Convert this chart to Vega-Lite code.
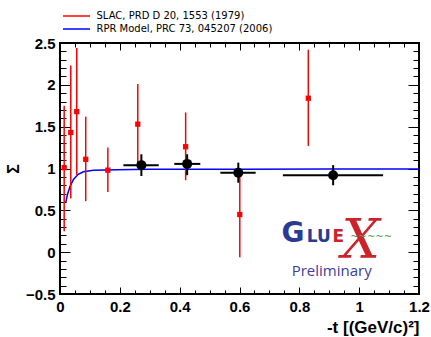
{
  "$schema": "https://vega.github.io/schema/vega-lite/v6.json",
  "width": 359,
  "height": 251,
  "autosize": "none",
  "padding": {"left": 60, "top": 43, "right": 12, "bottom": 43},
  "background": "white",
  "config": {
    "view": {"stroke": "black", "strokeWidth": 2},
    "axis": {"grid": false, "domain": false, "tickColor": "black", "labelColor": "black", "titleColor": "black"}
  },
  "datasets": {
    "slac": [
      {"t": 0.014, "sigma": 1.01, "lo": 0.25, "hi": 1.75, "series": "SLAC, PRD D 20, 1553 (1979)"},
      {"t": 0.036, "sigma": 1.43, "lo": 0.64, "hi": 2.23, "series": "SLAC, PRD D 20, 1553 (1979)"},
      {"t": 0.056, "sigma": 1.68, "lo": 0.92, "hi": 2.44, "series": "SLAC, PRD D 20, 1553 (1979)"},
      {"t": 0.086, "sigma": 1.11, "lo": 0.61, "hi": 1.62, "series": "SLAC, PRD D 20, 1553 (1979)"},
      {"t": 0.160, "sigma": 0.98, "lo": 0.72, "hi": 1.25, "series": "SLAC, PRD D 20, 1553 (1979)"},
      {"t": 0.260, "sigma": 1.53, "lo": 1.05, "hi": 2.01, "series": "SLAC, PRD D 20, 1553 (1979)"},
      {"t": 0.420, "sigma": 1.26, "lo": 0.86, "hi": 1.67, "series": "SLAC, PRD D 20, 1553 (1979)"},
      {"t": 0.601, "sigma": 0.45, "lo": -0.06, "hi": 0.96, "series": "SLAC, PRD D 20, 1553 (1979)"},
      {"t": 0.830, "sigma": 1.84, "lo": 1.27, "hi": 2.42, "series": "SLAC, PRD D 20, 1553 (1979)"}
    ],
    "rpr": [
      {"t": 0.019, "sigma": 0.59, "series": "RPR Model, PRC 73, 045207 (2006)"},
      {"t": 0.025, "sigma": 0.69, "series": "RPR Model, PRC 73, 045207 (2006)"},
      {"t": 0.034, "sigma": 0.79, "series": "RPR Model, PRC 73, 045207 (2006)"},
      {"t": 0.045, "sigma": 0.87, "series": "RPR Model, PRC 73, 045207 (2006)"},
      {"t": 0.061, "sigma": 0.93, "series": "RPR Model, PRC 73, 045207 (2006)"},
      {"t": 0.078, "sigma": 0.96, "series": "RPR Model, PRC 73, 045207 (2006)"},
      {"t": 0.112, "sigma": 0.978, "series": "RPR Model, PRC 73, 045207 (2006)"},
      {"t": 0.19, "sigma": 0.986, "series": "RPR Model, PRC 73, 045207 (2006)"},
      {"t": 0.3, "sigma": 0.99, "series": "RPR Model, PRC 73, 045207 (2006)"},
      {"t": 0.6, "sigma": 0.99, "series": "RPR Model, PRC 73, 045207 (2006)"},
      {"t": 0.9, "sigma": 0.994, "series": "RPR Model, PRC 73, 045207 (2006)"},
      {"t": 1.2, "sigma": 0.995, "series": "RPR Model, PRC 73, 045207 (2006)"}
    ],
    "gluex": [
      {"t": 0.272, "sigma": 1.04, "lo": 0.91, "hi": 1.17, "tlo": 0.212, "thi": 0.330},
      {"t": 0.425, "sigma": 1.055, "lo": 0.92, "hi": 1.17, "tlo": 0.382, "thi": 0.469},
      {"t": 0.596, "sigma": 0.95, "lo": 0.83, "hi": 1.07, "tlo": 0.536, "thi": 0.654},
      {"t": 0.913, "sigma": 0.92, "lo": 0.80, "hi": 1.04, "tlo": 0.745, "thi": 1.080}
    ]
  },
  "resolve": {"axis": {"x": "independent", "y": "independent"}},
  "layer": [
    {
      "data": {"name": "rpr"},
      "mark": {"type": "line", "strokeWidth": 1.5, "clip": true},
      "encoding": {
        "x": {
          "field": "t", "type": "quantitative",
          "scale": {"domain": [0, 1.2], "nice": false, "zero": false},
          "axis": {
            "orient": "bottom",
            "values": [0,0.05,0.1,0.15,0.2,0.25,0.3,0.35,0.4,0.45,0.5,0.55,0.6,0.65,0.7,0.75,0.8,0.85,0.9,0.95,1,1.05,1.1,1.15,1.2],
            "tickSize": {"condition": {"test": "abs(datum.value*5-round(datum.value*5))<1e-6", "value": -7}, "value": -4},
            "tickWidth": 1,
            "labelExpr": "abs(datum.value*5-round(datum.value*5))<1e-6 ? format(datum.value,'~g') : ''",
            "labelFont": "Liberation Sans", "labelFontWeight": "bold", "labelFontSize": 15,
            "labelPadding": 12, "labelFlush": false, "labelOverlap": false,
            "title": "-t [(GeV/c)²]", "titleAnchor": "end", "titleFont": "Liberation Sans",
            "titleFontWeight": "bold", "titleFontSize": 17, "titlePadding": 2
          }
        },
        "y": {
          "field": "sigma", "type": "quantitative",
          "scale": {"domain": [-0.5, 2.5], "nice": false, "zero": false},
          "axis": {
            "orient": "left",
            "values": [-0.5,-0.4,-0.3,-0.2,-0.1,0,0.1,0.2,0.3,0.4,0.5,0.6,0.7,0.8,0.9,1,1.1,1.2,1.3,1.4,1.5,1.6,1.7,1.8,1.9,2,2.1,2.2,2.3,2.4,2.5],
            "tickSize": {"condition": {"test": "abs(datum.value*2-round(datum.value*2))<1e-6", "value": -10}, "value": -6},
            "tickWidth": 1,
            "labelExpr": "abs(datum.value*2-round(datum.value*2))<1e-6 ? format(datum.value,'~g') : ''",
            "labelFont": "Liberation Sans", "labelFontWeight": "bold", "labelFontSize": 15,
            "labelPadding": 15, "labelFlush": false, "labelOverlap": false,
            "title": "Σ", "titleFont": "Liberation Sans", "titleFontWeight": "bold", "titleFontSize": 16, "titlePadding": 4
          }
        },
        "color": {
          "field": "series", "type": "nominal",
          "scale": {"domain": ["SLAC, PRD D 20, 1553 (1979)", "RPR Model, PRC 73, 045207 (2006)"], "range": ["#ff0000", "#0000ff"]},
          "legend": {
            "orient": "none", "legendX": 9.5, "legendY": -34, "title": null,
            "symbolType": "M-2.25,0L2.25,0", "symbolSize": 144, "symbolStrokeWidth": 1.5,
            "labelFont": "DejaVu Sans", "labelFontSize": 10, "labelColor": "black", "labelLimit": 400,
            "rowPadding": 1, "labelOffset": 13
          }
        }
      }
    },
    {
      "data": {"name": "slac"},
      "mark": {"type": "rule", "strokeWidth": 1.5},
      "encoding": {
        "x": {
          "field": "t", "type": "quantitative",
          "axis": {
            "orient": "top",
            "values": [0,0.05,0.1,0.15,0.2,0.25,0.3,0.35,0.4,0.45,0.5,0.55,0.6,0.65,0.7,0.75,0.8,0.85,0.9,0.95,1,1.05,1.1,1.15,1.2],
            "tickSize": {"condition": {"test": "abs(datum.value*5-round(datum.value*5))<1e-6", "value": -7}, "value": -4},
            "tickWidth": 1, "labels": false, "title": null
          }
        },
        "y": {
          "field": "lo", "type": "quantitative",
          "axis": {
            "orient": "right",
            "values": [-0.5,-0.4,-0.3,-0.2,-0.1,0,0.1,0.2,0.3,0.4,0.5,0.6,0.7,0.8,0.9,1,1.1,1.2,1.3,1.4,1.5,1.6,1.7,1.8,1.9,2,2.1,2.2,2.3,2.4,2.5],
            "tickSize": {"condition": {"test": "abs(datum.value*2-round(datum.value*2))<1e-6", "value": -11}, "value": -6},
            "tickWidth": 1, "labels": false, "title": null
          }
        },
        "y2": {"field": "hi"},
        "color": {"field": "series", "type": "nominal"}
      }
    },
    {
      "data": {"name": "slac"},
      "mark": {"type": "square", "size": 28, "opacity": 1, "filled": true},
      "encoding": {
        "x": {"field": "t", "type": "quantitative", "axis": null},
        "y": {"field": "sigma", "type": "quantitative", "axis": null},
        "color": {"field": "series", "type": "nominal"}
      }
    },
    {
      "data": {"name": "gluex"},
      "mark": {"type": "rule", "strokeWidth": 2, "color": "black"},
      "encoding": {
        "x": {"field": "t", "type": "quantitative", "axis": null},
        "y": {"field": "lo", "type": "quantitative", "axis": null},
        "y2": {"field": "hi"}
      }
    },
    {
      "data": {"name": "gluex"},
      "mark": {"type": "rule", "strokeWidth": 2, "color": "black"},
      "encoding": {
        "x": {"field": "tlo", "type": "quantitative", "axis": null},
        "x2": {"field": "thi"},
        "y": {"field": "sigma", "type": "quantitative", "axis": null}
      }
    },
    {
      "data": {"name": "gluex"},
      "mark": {"type": "circle", "size": 100, "opacity": 1, "color": "black"},
      "encoding": {
        "x": {"field": "t", "type": "quantitative", "axis": null},
        "y": {"field": "sigma", "type": "quantitative", "axis": null}
      }
    },
    {
      "data": {"values": [{}]},
      "mark": {"type": "text", "font": "DejaVu Sans", "fontWeight": "bold", "fontSize": 28, "color": "#2b3a92", "align": "center", "baseline": "alphabetic"},
      "encoding": {
        "x": {"datum": 0.779, "type": "quantitative", "axis": null},
        "y": {"datum": 0.125, "type": "quantitative", "axis": null},
        "text": {"value": "G"}
      }
    },
    {
      "data": {"values": [{}]},
      "mark": {"type": "text", "font": "DejaVu Sans", "fontWeight": "bold", "fontSize": 17, "color": "#2b3a92", "align": "center", "baseline": "alphabetic"},
      "encoding": {
        "x": {"datum": 0.865, "type": "quantitative", "axis": null},
        "y": {"datum": 0.125, "type": "quantitative", "axis": null},
        "text": {"value": "LU"}
      }
    },
    {
      "data": {"values": [{}]},
      "mark": {"type": "text", "font": "DejaVu Sans", "fontWeight": "bold", "fontSize": 17, "color": "#cc2229", "align": "center", "baseline": "alphabetic"},
      "encoding": {
        "x": {"datum": 0.93, "type": "quantitative", "axis": null},
        "y": {"datum": 0.125, "type": "quantitative", "axis": null},
        "text": {"value": "E"}
      }
    },
    {
      "data": {"values": [{}]},
      "mark": {"type": "text", "font": "DejaVu Serif", "fontStyle": "italic", "fontSize": 54, "color": "#cc2229", "align": "center", "baseline": "middle"},
      "encoding": {
        "x": {"datum": 1.005, "type": "quantitative", "axis": null},
        "y": {"datum": 0.125, "type": "quantitative", "axis": null},
        "text": {"value": "X"}
      }
    },
    {
      "data": {"values": [{}]},
      "mark": {"type": "text", "font": "DejaVu Sans", "fontSize": 10, "color": "#55a055", "align": "center", "baseline": "middle"},
      "encoding": {
        "x": {"datum": 1.04, "type": "quantitative", "axis": null},
        "y": {"datum": 0.18, "type": "quantitative", "axis": null},
        "text": {"value": "~~~~~"}
      }
    },
    {
      "data": {"values": [{}]},
      "mark": {"type": "text", "font": "Open Sans", "fontSize": 15, "color": "#3d3d99", "align": "center", "baseline": "middle"},
      "encoding": {
        "x": {"datum": 0.908, "type": "quantitative", "axis": null},
        "y": {"datum": -0.23, "type": "quantitative", "axis": null},
        "text": {"value": "Preliminary"}
      }
    }
  ]
}
